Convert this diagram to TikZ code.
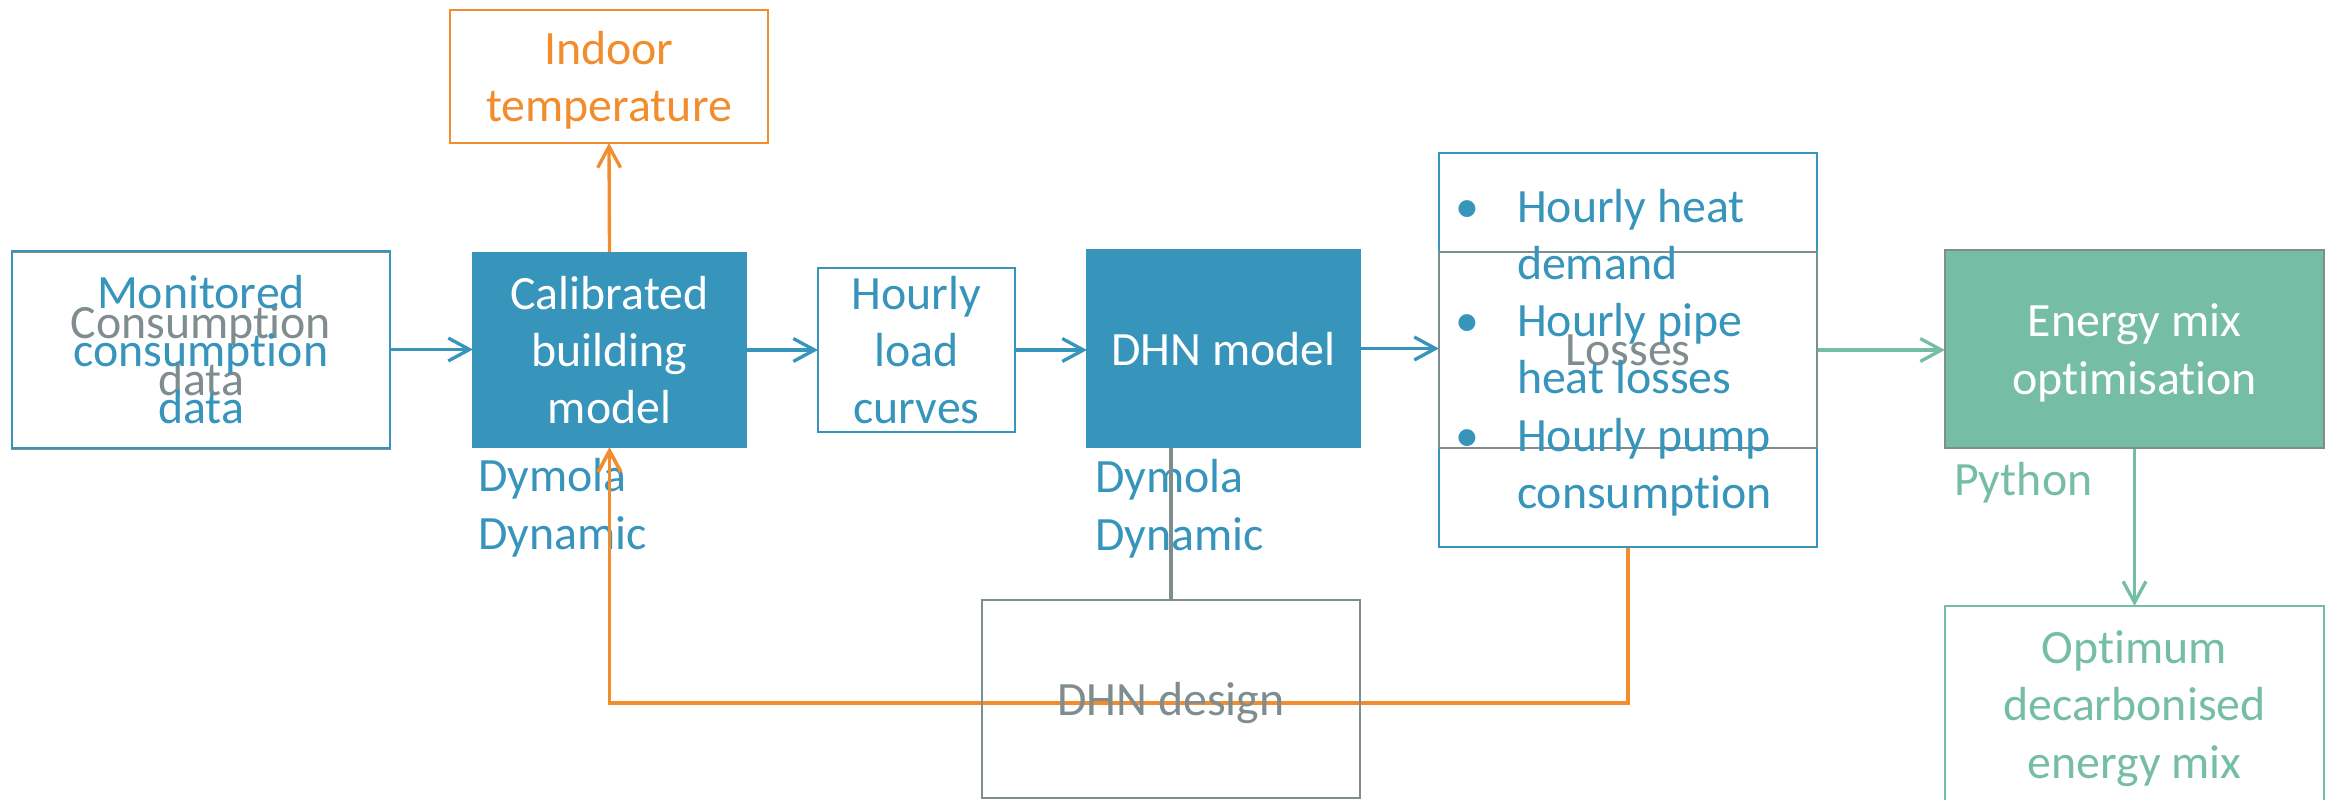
\documentclass[tikz,border=0pt]{standalone}
\usepackage{fontspec}
\setmainfont{Carlito}[RawFeature={-liga;-clig;-dlig;-calt}]
\usetikzlibrary{arrows.meta}
\definecolor{cblue}{RGB}{55,148,187}
\definecolor{cgray}{RGB}{127,141,142}
\definecolor{corange}{RGB}{242,141,46}
\definecolor{cgreen}{RGB}{118,189,166}
\pgfdeclarelayer{bg}
\pgfsetlayers{bg,main}
\begin{document}
\begin{tikzpicture}[x=0.01cm,y=-0.01cm,
  every node/.style={font=\fontsize{13.6pt}{16.3pt}\selectfont, inner sep=0pt, outer sep=0pt},
  box/.style={draw, line width=0.6pt, align=center, text depth=0pt},
  conn/.style={line width=0.95pt, -{Straight Barb[length=6pt,width=6.5pt]}},
  lbl/.style={anchor=south west, align=left, text depth=0pt},
]
\useasboundingbox (0,0) rectangle (2335,800);

% boxes
\node[box, draw=cgray, text=cgray, minimum width=3.78cm, minimum height=1.97cm] (mong) at (201,350.5) {Consumption\\data};
\node[box, draw=cblue, text=cblue, minimum width=3.78cm, minimum height=1.97cm] (mon) at (201,349.5) {Monitored\\consumption\\data};
\node[box, draw=cblue, fill=cblue, text=white, minimum width=2.73cm, minimum height=1.94cm] (cal) at (609.5,350) {Calibrated\\building\\model};
\node[box, draw=corange, text=corange, minimum width=3.18cm, minimum height=1.33cm] (indoor) at (609,76.5) {Indoor\\temperature};
\node[box, draw=cblue, text=cblue, minimum width=1.97cm, minimum height=1.64cm] (hourly) at (916.5,350) {Hourly\\load\\curves};
\node[box, draw=cblue, fill=cblue, text=white, minimum width=2.73cm, minimum height=1.97cm] (dhn) at (1223.5,348.5) {DHN model};
\node[box, draw=cblue, minimum width=3.78cm, minimum height=3.94cm] (out) at (1628,350) {};
\node[box, draw=cgray, text=cgray, minimum width=3.78cm, minimum height=1.96cm] (loss) at (1628,350) {Losses};
\node[anchor=base west, text=cblue] (list) at (1459,222) {\begin{tabular}[t]{@{}p{0.58cm}@{}l@{}}
\makebox[0.16cm]{•} & Hourly heat\\
 & demand\\
\makebox[0.16cm]{•} & Hourly pipe\\
 & heat losses\\
\makebox[0.16cm]{•} & Hourly pump\\
 & consumption
\end{tabular}};
\node[box, draw=cgray, fill=cgreen, text=white, line width=0.4pt, minimum width=3.79cm, minimum height=1.98cm] (energy) at (2134.5,349) {Energy mix\\optimisation};
\node[box, draw=cgreen, text=cgreen, minimum width=3.79cm, minimum height=1.97cm] (opt) at (2134.5,704.5) {Optimum\\decarbonised\\energy mix};
\node[box, draw=cgray, text=cgray, minimum width=3.78cm, minimum height=1.98cm] (design) at (1171,699) {DHN design};

\begin{pgfonlayer}{bg}
\node[lbl, text=cblue] (dym1) at (478,549) {Dymola\\Dynamic};
\node[lbl, text=cblue] (dym2) at (1095,550) {Dymola\\Dynamic};
\node[lbl, text=cgreen] (py) at (1954,495) {Python};

\draw[conn, cblue] (mon.east) -- (mon.east -| cal.west);
\draw[conn, cblue] (cal.east) -- (hourly.west);
\draw[conn, cblue] (hourly.east) -- (hourly.east -| dhn.west);
\draw[conn, cblue] (dhn.east) -- (dhn.east -| out.west);
\draw[conn, cgreen] (out.east) -- (energy.west |- out.east);
\draw[conn, cgreen] (energy.south) -- (opt.north);
\draw[conn, corange] (cal.north) -- (indoor.south);
\coordinate (loop) at (1628,703);
\draw[conn, corange, line width=1.05pt] (out.south) -- (loop) -| (cal.south);
\draw[line width=0.95pt, cgray] (dhn.south -| design.north) -- (design.north);
\end{pgfonlayer}
\end{tikzpicture}
\end{document}
